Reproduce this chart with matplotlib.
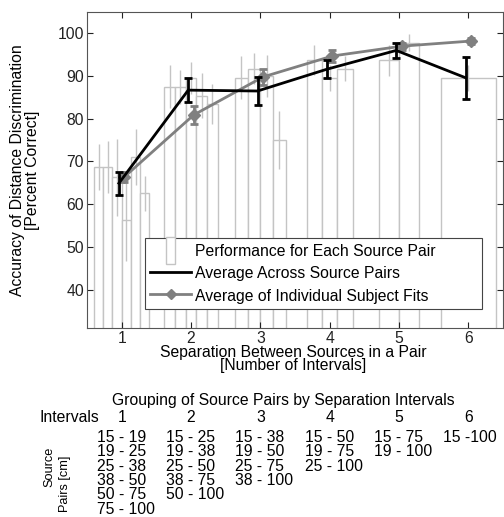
#!/usr/bin/env python3
# Distance discrimination accuracy vs. source separation (bars per source pair + two averages)
# Output: out.png

import numpy as np
import matplotlib.pyplot as plt
from matplotlib.patches import Rectangle
from matplotlib.lines import Line2D
from matplotlib.legend_handler import HandlerPatch
from matplotlib.transforms import blended_transform_factory

# ======= Data =======
INTERVALS = [1, 2, 3, 4, 5, 6]

# performance for each source pair, grouped by separation interval
PAIR_MEANS = [
    [68.7, 68.7, 66.3, 56.2, 71.0, 62.5],
    [87.5, 87.5, 89.6, 85.4, 83.5],
    [89.6, 91.7, 90.0, 75.0],
    [93.7, 89.6, 91.7],
    [93.7, 97.8],
    [89.5],
]
PAIR_ERRS = [
    [5.5, 6.2, 9.0, 9.5, 6.6, 4.0],
    [5.0, 4.0, 3.7, 5.2, 4.7],
    [5.0, 3.6, 5.0, 6.7],
    [3.5, 3.0, 2.9],
    [3.6, 2.0],
    [3.0],
]

AVG_PAIRS = [64.9, 86.7, 86.5, 91.6, 96.0, 89.6]
AVG_PAIRS_ERR = [2.7, 2.8, 3.2, 2.1, 1.8, 4.9]

AVG_FITS = [66.4, 80.9, 89.8, 94.7, 97.0, 98.2]
AVG_FITS_ERR = [1.2, 2.1, 1.9, 1.4, 0.8, 0.6]

PAIR_LABELS = [
    ["15 - 19", "19 - 25", "25 - 38", "38 - 50", "50 - 75", "75 - 100"],
    ["15 - 25", "19 - 38", "25 - 50", "38 - 75", "50 - 100"],
    ["15 - 38", "19 - 50", "25 - 75", "38 - 100"],
    ["15 - 50", "19 - 75", "25 - 100"],
    ["15 - 75", "19 - 100"],
    ["15 -100"],
]
YTICKS = [40, 50, 60, 70, 80, 90, 100]

# ======= Style =======
FONT = "Liberation Sans"
FS = 11.3
BAR_EDGE = "#c4c4c4"
GRAY = "#808080"
W, H = 504, 517

plt.rcParams["font.family"] = [FONT, "DejaVu Sans"]
plt.rcParams["font.size"] = FS


def px_x(p):
    return p / W


def px_y(p):
    return 1 - p / H


class NarrowBarHandler(HandlerPatch):
    """Tall, narrow bar icon like the MATLAB legend."""
    def create_artists(self, legend, orig_handle, xdescent, ydescent,
                       width, height, fontsize, trans):
        w = 0.55 * fontsize
        h = 1.7 * fontsize
        cx = -xdescent + width / 2
        cy = -ydescent + height / 2
        p = Rectangle((cx - w / 2, cy - h / 2), w, h, facecolor="white",
                      edgecolor=BAR_EDGE, linewidth=1.0, transform=trans)
        return [p]


def main():
    fig = plt.figure(figsize=(W / 100, H / 100), dpi=100)
    ax = fig.add_axes([px_x(87), px_y(328), px_x(503) - px_x(87), px_y(12) - px_y(328)])

    # 1) bars per source pair (MATLAB-like grouped layout, one group per interval)
    for g, means, errs in zip(INTERVALS, PAIR_MEANS, PAIR_ERRS):
        n = len(means)
        if n == 1:
            gw, slot = 0.8, 0.8
        else:
            gw = min(0.8, n / (n + 1.5))
            slot = gw / n
        centers = g - gw / 2 + (np.arange(n) + 0.5) * slot
        ax.bar(centers, means, width=slot, color="white", edgecolor=BAR_EDGE,
               linewidth=1.0, zorder=1)
        ax.errorbar(centers, means, yerr=errs, fmt="none", ecolor=BAR_EDGE,
                    elinewidth=1.0, capsize=0, zorder=1.5)

    x = np.array(INTERVALS, dtype=float)
    # 2) average of individual subject fits (gray, diamonds)
    ax.errorbar(x + 0.04, AVG_FITS, yerr=AVG_FITS_ERR, color=GRAY, lw=2.0,
                marker="D", ms=6, mfc=GRAY, mec=GRAY, elinewidth=2.0,
                capsize=3, capthick=2.0, zorder=3)
    # 3) average across source pairs (black)
    ax.errorbar(x - 0.04, AVG_PAIRS, yerr=AVG_PAIRS_ERR, color="black", lw=2.0,
                elinewidth=2.0, capsize=3, capthick=2.0, zorder=4)

    ax.set_xlim(0.5, 6.5)
    ax.set_ylim(31, 105)
    ax.set_xticks(INTERVALS)
    ax.set_yticks(YTICKS)
    ax.tick_params(direction="in", top=True, right=True, length=4, width=0.8,
                   labelsize=FS, pad=2, colors="#222222")
    for sp in ax.spines.values():
        sp.set_color("#555555")
        sp.set_linewidth(0.8)

    # legend (wide box like MATLAB, extra room on the right)
    bar_handle = Rectangle((0, 0), 1, 1, facecolor="white", edgecolor=BAR_EDGE)
    handles = [
        bar_handle,
        Line2D([], [], color="black", lw=2.0),
        Line2D([], [], color=GRAY, lw=2.0, marker="D", ms=5, mfc=GRAY, mec=GRAY),
    ]
    labels = ["Performance for Each Source Pair", "Average Across Source Pairs",
              "Average of Individual Subject Fits"]
    leg = ax.legend(handles, labels, loc="lower left",
                    bbox_to_anchor=(0.139, 0.06, 0.811, 0.24), mode="expand",
                    fontsize=FS, frameon=True, fancybox=False, framealpha=1,
                    edgecolor="#444444", handlelength=2.6, handleheight=1.0,
                    borderpad=0.35, labelspacing=0.45, handletextpad=0.25,
                    borderaxespad=0, handler_map={bar_handle: NarrowBarHandler()})
    leg.get_frame().set_linewidth(0.8)
    leg.set_zorder(10)

    # axis labels
    fig.text(px_x(25), px_y(170), "Accuracy of Distance Discrimination\n[Percent Correct]",
             rotation=90, ha="center", va="center", ma="center", fontsize=FS,
             linespacing=1.0)
    fig.text(px_x(293), px_y(359), "Separation Between Sources in a Pair\n[Number of Intervals]",
             ha="center", va="center", ma="center", fontsize=FS, linespacing=0.85)

    # grouping table under the plot
    tr = blended_transform_factory(ax.transData, fig.transFigure)
    fig.text(px_x(283), px_y(400), "Grouping of Source Pairs by Separation Intervals",
             ha="center", va="center", fontsize=FS)
    ax.text(0.67, px_y(417), "Intervals", transform=tr, ha="right", va="center",
            fontsize=FS, clip_on=False)
    for g, pairs in zip(INTERVALS, PAIR_LABELS):
        ax.text(g, px_y(417), str(g), transform=tr, ha="center", va="center",
                fontsize=FS, clip_on=False)
        for i, lab in enumerate(pairs):
            ax.text(g - 0.36, px_y(437.5 + 14.3 * i), lab, transform=tr, ha="left",
                    va="center", fontsize=FS, clip_on=False)
    fig.text(px_x(49), px_y(467), "Source", rotation=90, ha="center",
             va="center", fontsize=9.2)
    fig.text(px_x(65), px_y(484), "Pairs [cm]", rotation=90, ha="center",
             va="center", fontsize=9.2)

    fig.savefig("out.png", dpi=100)


if __name__ == "__main__":
    main()
